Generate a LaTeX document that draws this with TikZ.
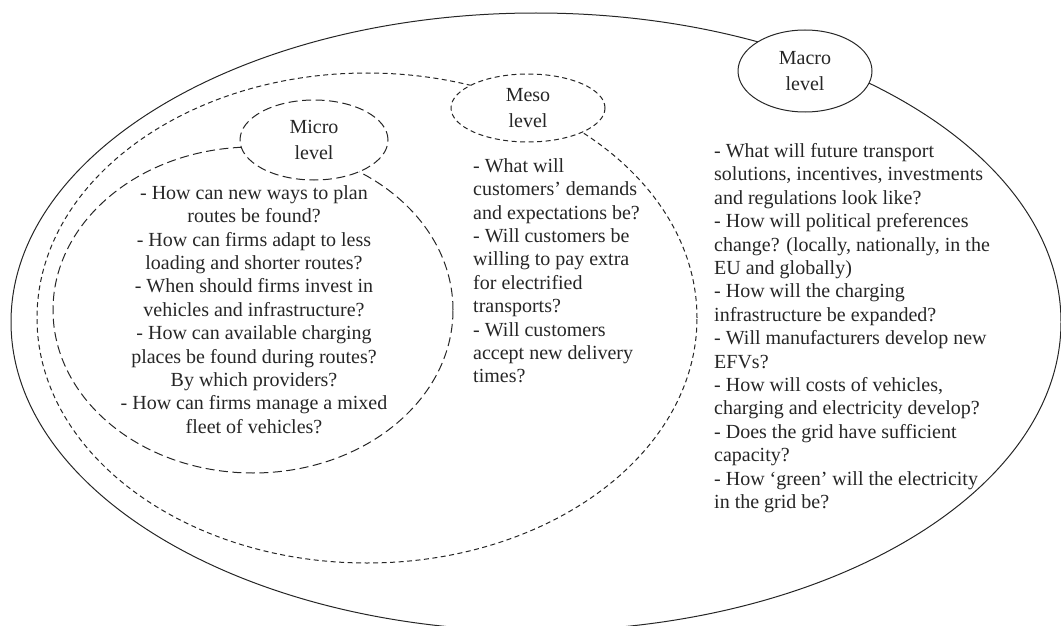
\documentclass[tikz,border=0pt]{standalone}
\usepackage{fontspec}
\setmainfont{Liberation Serif}
\usetikzlibrary{shapes.geometric}
\begin{document}
\begin{tikzpicture}[x=1pt,y=-1pt,
  ln/.style={draw=black!85, line width=1pt},
  zone/.style={ellipse, ln, inner sep=0pt, outer sep=0pt},
  microdash/.style={dash pattern=on 9pt off 4.5pt},
  mesodash/.style={dash pattern=on 5pt off 3.5pt},
  lbl/.style={ellipse, ln, fill=white, inner sep=0pt, align=center,
    font=\fontsize{20}{26.5}\selectfont, text=black!85},
  body/.style={inner sep=0pt, font=\fontsize{20}{23.4}\selectfont, text=black!85}]
\useasboundingbox (0,0) rectangle (1061,626);
\clip (0,0) rectangle (1061,626);
% zones
\node[zone, minimum width=1050pt, minimum height=618pt] (macrozone) at (536,322) {};
\node[zone, mesodash, minimum width=660pt, minimum height=490pt] (mesozone) at (367,318) {};
\node[zone, microdash, minimum width=400pt, minimum height=326pt] (microzone) at (253,310) {};
% labels
\node[lbl, minimum width=134pt, minimum height=82pt] (macrolbl) at (805,71) {Macro\\level};
\node[lbl, mesodash, minimum width=154pt, minimum height=68pt] (mesolbl) at (528,108) {Meso\\level};
\node[lbl, microdash, minimum width=148pt, minimum height=80pt] (microlbl) at (314,140) {Micro\\level};
% texts
\node[body, align=center, anchor=north] (microtxt) at (254,185.3) {%
- How can new ways to plan\\
routes be found?\\
- How can firms adapt to less\\
loading and shorter routes?\\
- When should firms invest in\\
vehicles and infrastructure?\\
- How can available charging\\
places be found during routes?\\
By which providers?\\
- How can firms manage a mixed\\
fleet of vehicles?};
\node[body, align=left, anchor=north west] (mesotxt) at (473,158.3) {%
- What will\\
customers’ demands\\
and expectations be?\\
- Will customers be\\
willing to pay extra\\
for electrified\\
transports?\\
- Will customers\\
accept new delivery\\
times?};
\node[body, align=left, anchor=north west] (macrotxt) at (714,143.3) {%
- What will future transport\\
solutions, incentives, investments\\
and regulations look like?\\
- How will political preferences\\
change? (locally, nationally, in the\\
EU and globally)\\
- How will the charging\\
infrastructure be expanded?\\
- Will manufacturers develop new\\
EFVs?\\
- How will costs of vehicles,\\
charging and electricity develop?\\
- Does the grid have sufficient\\
capacity?\\
- How ‘green’ will the electricity\\
in the grid be?};
\end{tikzpicture}
\end{document}
